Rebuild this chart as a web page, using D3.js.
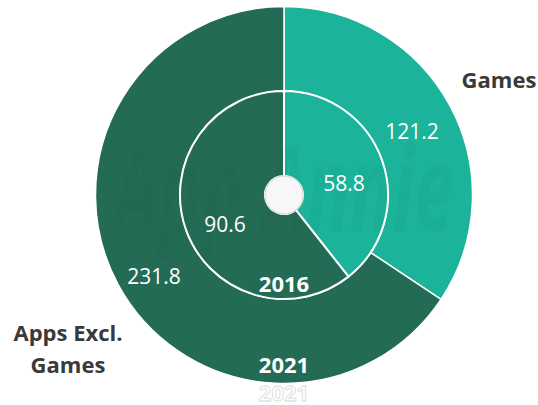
<!DOCTYPE html>
<html>
<head>
<meta charset="utf-8">
<script src="https://cdn.jsdelivr.net/npm/d3@7"></script>
<style>
  html, body { margin: 0; padding: 0; background: #fff; }
  svg { display: block; }
  text { font-family: "Open Sans", "Noto Sans", sans-serif; }
</style>
</head>
<body>
<svg id="chart" width="538" height="405"></svg>
<script>
// Revenue by category (USD billions)
const categories = ["Games", "Apps Excl. Games"];
const values2016 = [58.8, 90.6];
const values2021 = [121.2, 231.8];
const years = ["2016", "2021"];

const colors = { "Games": "#1bb39a", "Apps Excl. Games": "#236b55" };

const width = 538, height = 405;
const cx = 284, cy = 195;
const rHole = 19, rMid = 104, rOuter = 188.5;

const svg = d3.select("#chart");
const g = svg.append("g").attr("transform", `translate(${cx},${cy})`);

const pie = d3.pie().sort(null).value(d => d.value);

function ringData(vals) {
  return pie(categories.map((c, i) => ({ category: c, value: vals[i] })));
}

const outerArc = d3.arc().innerRadius(rMid).outerRadius(rOuter);
const innerArc = d3.arc().innerRadius(rHole).outerRadius(rMid);

const outer = ringData(values2021);
const inner = ringData(values2016);

// outer ring (2021)
g.selectAll("path.outer").data(outer).join("path")
  .attr("class", "outer")
  .attr("d", outerArc)
  .attr("fill", d => colors[d.data.category])
  .attr("stroke", "#fff").attr("stroke-width", 1.5).attr("stroke-linejoin", "round");

// inner ring (2016)
g.selectAll("path.inner").data(inner).join("path")
  .attr("class", "inner")
  .attr("d", innerArc)
  .attr("fill", d => colors[d.data.category])
  .attr("stroke", "#fff").attr("stroke-width", 2).attr("stroke-linejoin", "round");

// faint watermark
g.append("text")
  .attr("x", 0).attr("y", 36)
  .attr("text-anchor", "middle")
  .attr("font-size", 118)
  .attr("font-weight", 700)
  .attr("font-style", "italic")
  .attr("textLength", 340)
  .attr("lengthAdjust", "spacingAndGlyphs")
  .attr("fill", "#000").attr("fill-opacity", 0.022)
  .text("App Annie");

// centre hole
g.append("circle").attr("r", rHole)
  .attr("fill", "#f7f7f7").attr("stroke", "#d0d0d0").attr("stroke-width", 1);

// value labels
const fmt = d3.format(".1f");
const outerLabelPos = [[128, -56], [-130, 88.5]];
const innerLabelPos = [[60, -4], [-59, 37]];

g.selectAll("text.v21").data(outer).join("text")
  .attr("class", "v21")
  .attr("x", (d, i) => outerLabelPos[i][0])
  .attr("y", (d, i) => outerLabelPos[i][1])
  .attr("text-anchor", "middle")
  .attr("font-size", 21).attr("fill", "#fff")
  .text(d => fmt(d.data.value));

g.selectAll("text.v16").data(inner).join("text")
  .attr("class", "v16")
  .attr("x", (d, i) => innerLabelPos[i][0])
  .attr("y", (d, i) => innerLabelPos[i][1])
  .attr("text-anchor", "middle")
  .attr("font-size", 21).attr("fill", "#fff")
  .text(d => fmt(d.data.value));

// year labels
g.append("text").attr("x", 0).attr("y", 97)
  .attr("text-anchor", "middle").attr("font-size", 22).attr("font-weight", 700)
  .attr("fill", "#fff").text(years[0]);
g.append("text").attr("x", 0).attr("y", 178)
  .attr("text-anchor", "middle").attr("font-size", 22).attr("font-weight", 700)
  .attr("fill", "#fff").text(years[1]);

// ghost year label below the ring
g.append("text").attr("x", 0).attr("y", 206)
  .attr("text-anchor", "middle").attr("font-size", 22).attr("font-weight", 700)
  .attr("fill", "#fff").attr("stroke", "#d8d8d8").attr("stroke-width", 0.8)
  .text(years[1]);

// category labels
svg.append("text").attr("x", 499).attr("y", 88)
  .attr("text-anchor", "middle").attr("font-size", 22).attr("font-weight", 700)
  .attr("fill", "#3a3a3a").text(categories[0]);

const appsLabel = svg.append("text").attr("text-anchor", "middle")
  .attr("font-size", 22).attr("font-weight", 700).attr("fill", "#3a3a3a");
appsLabel.append("tspan").attr("x", 68).attr("y", 341).text("Apps Excl.");
appsLabel.append("tspan").attr("x", 68).attr("y", 373).text("Games");
</script>
</body>
</html>
